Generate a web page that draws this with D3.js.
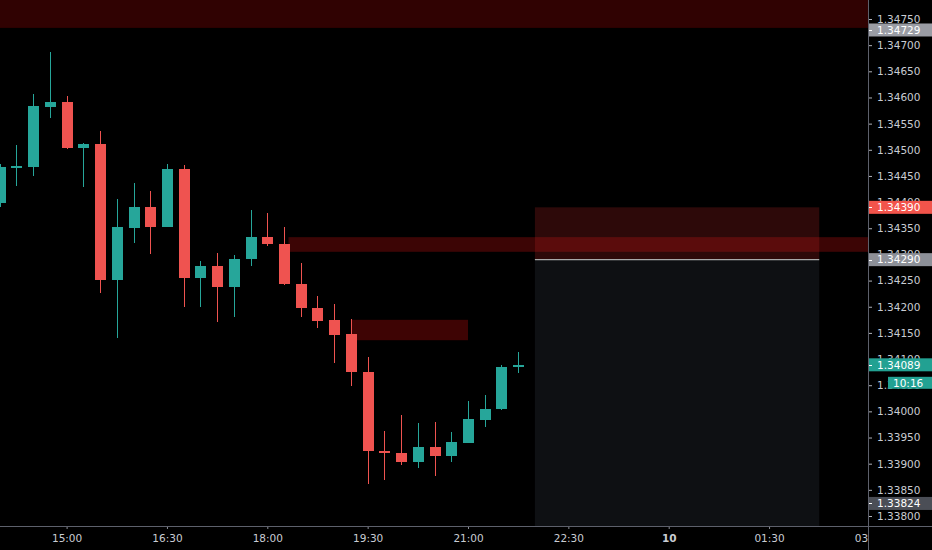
<!DOCTYPE html>
<html>
<head>
<meta charset="utf-8">
<script src="https://cdn.jsdelivr.net/npm/d3@7"></script>
<style>
  html, body { margin: 0; padding: 0; background: #000; }
  svg { display: block; }
  text { font-family: "DejaVu Sans", sans-serif; }
</style>
</head>
<body>
<svg id="chart" width="932" height="550"></svg>
<script>
// ---------- data ----------
const DAY = "2023-11-09";
const candleTimes = ["14:00","14:15","14:30","14:45","15:00","15:15","15:30","15:45",
  "16:00","16:15","16:30","16:45","17:00","17:15","17:30","17:45",
  "18:00","18:15","18:30","18:45","19:00","19:15","19:30","19:45",
  "20:00","20:15","20:30","20:45","21:00","21:15","21:30","21:45"];
const opens  = [1.34398,1.34466,1.34468,1.34582,1.34591,1.34503,1.34512,1.34251,
  1.34351,1.34390,1.34353,1.34463,1.34254,1.34278,1.34237,1.34291,
  1.34333,1.34320,1.34243,1.34198,1.34174,1.34147,1.34076,1.33925,
  1.33920,1.33904,1.33932,1.33915,1.33940,1.33983,1.34004,1.34085];
const highs  = [1.34472,1.34510,1.34606,1.34686,1.34603,1.34513,1.34535,1.34405,
  1.34436,1.34421,1.34472,1.34470,1.34287,1.34302,1.34299,1.34384,
  1.34380,1.34353,1.34283,1.34221,1.34205,1.34176,1.34103,1.33962,
  1.33993,1.33977,1.33979,1.33960,1.34020,1.34031,1.34089,1.34114];
const lows   = [1.34390,1.34430,1.34449,1.34560,1.34501,1.34429,1.34226,1.34141,
  1.34321,1.34300,1.34352,1.34200,1.34200,1.34170,1.34181,1.34277,
  1.34317,1.34242,1.34181,1.34159,1.34092,1.34048,1.33862,1.33869,
  1.33897,1.33892,1.33876,1.33904,1.33939,1.33971,1.34003,1.34073];
const closes = [1.34467,1.34469,1.34584,1.34591,1.34503,1.34512,1.34251,1.34352,
  1.34390,1.34353,1.34463,1.34254,1.34278,1.34237,1.34291,1.34333,
  1.34319,1.34243,1.34197,1.34173,1.34146,1.34075,1.33925,1.33920,
  1.33904,1.33932,1.33915,1.33941,1.33985,1.34005,1.34085,1.34089];

const priceTicks = [1.33800,1.33850,1.33900,1.33950,1.34000,1.34050,1.34100,1.34150,
  1.34200,1.34250,1.34300,1.34350,1.34400,1.34450,1.34500,1.34550,1.34600,
  1.34650,1.34700,1.34750];
const timeTicks = ["2023-11-09T15:00Z","2023-11-09T16:30Z","2023-11-09T18:00Z",
  "2023-11-09T19:30Z","2023-11-09T21:00Z","2023-11-09T22:30Z","2023-11-10T00:00Z",
  "2023-11-10T01:30Z","2023-11-10T03:00Z"];

// zones (time anchors + price levels)
const topZone    = { top: 1.34800, bottom: 1.34733 };
const resistZone = { start: "2023-11-09T18:19Z", top: 1.34333, bottom: 1.34305 };
const smallZone  = { start: "2023-11-09T19:15Z", end: "2023-11-09T21:00Z", top: 1.34175, bottom: 1.34136 };
const position   = { start: "2023-11-09T22:00Z", end: "2023-11-10T02:15Z", stop: 1.34390, entry: 1.34290, target: 1.33700 };

// axis price labels
const priceLabelValues = [1.34729, 1.34390, 1.34290, 1.34089, 1.33824];
const priceLabelColors = ["#9a9ca4", "#f2544b", "#8d9098", "#22a192", "#4b4e56"];
const countdownText = "10:16";

// ---------- layout ----------
const W = 932, H = 550, plotR = 868, plotB = 526;
const svg = d3.select("#chart");
svg.append("rect").attr("width", W).attr("height", H).attr("fill", "#000");

const x = d3.scaleTime()
  .domain([new Date("2023-11-09T14:00Z"), new Date("2023-11-10T03:00Z")])
  .range([-0.3, 869.4]);
const y = d3.scaleLinear().domain([1.338, 1.3475]).range([516, 19]);

const defs = svg.append("defs");
defs.append("clipPath").attr("id", "plotClip")
  .append("rect").attr("x", 0).attr("y", 0).attr("width", plotR).attr("height", plotB);

const plot = svg.append("g").attr("clip-path", "url(#plotClip)");

// position tool lower (target) zone
const px0 = x(new Date(position.start)), px1 = x(new Date(position.end));
plot.append("rect")
  .attr("x", px0).attr("width", px1 - px0)
  .attr("y", y(position.entry)).attr("height", y(position.target) - y(position.entry))
  .attr("fill", "#0e1013");

// top zone
plot.append("rect")
  .attr("x", 0).attr("width", plotR)
  .attr("y", y(topZone.top)).attr("height", y(topZone.bottom) - y(topZone.top))
  .attr("fill", "#300202");

// resistance zone extending to the right
const rx0 = x(new Date(resistZone.start));
plot.append("rect")
  .attr("x", rx0).attr("width", plotR - rx0)
  .attr("y", y(resistZone.top)).attr("height", y(resistZone.bottom) - y(resistZone.top))
  .attr("fill", "#3c0505");

// small zone
const sx0 = x(new Date(smallZone.start)), sx1 = x(new Date(smallZone.end));
plot.append("rect")
  .attr("x", sx0).attr("width", sx1 - sx0)
  .attr("y", y(smallZone.top)).attr("height", y(smallZone.bottom) - y(smallZone.top))
  .attr("fill", "#3e0404");

// position stop zone (translucent red)
plot.append("rect")
  .attr("x", px0).attr("width", px1 - px0)
  .attr("y", y(position.stop)).attr("height", y(position.entry) - y(position.stop))
  .attr("fill", "rgba(205,40,40,0.22)");
// entry line
plot.append("line")
  .attr("x1", px0).attr("x2", px1)
  .attr("y1", y(position.entry)).attr("y2", y(position.entry))
  .attr("stroke", "#a8a8a8").attr("stroke-width", 1.3);

// candles
const up = "#26a69a", down = "#ef5350";
const candles = candleTimes.map((t, i) => ({
  t: new Date(DAY + "T" + t + "Z"), o: opens[i], h: highs[i], l: lows[i], c: closes[i]
}));
const cg = plot.append("g").attr("shape-rendering", "crispEdges");
const bw = 11.5;
cg.selectAll("line.wick").data(candles).enter().append("line")
  .attr("class", "wick")
  .attr("x1", d => Math.round(x(d.t)) + 0.5).attr("x2", d => Math.round(x(d.t)) + 0.5)
  .attr("y1", d => y(d.h)).attr("y2", d => y(d.l))
  .attr("stroke", d => d.c >= d.o ? up : down).attr("stroke-width", 1);
cg.selectAll("rect.body").data(candles).enter().append("rect")
  .attr("class", "body")
  .attr("x", d => Math.round(x(d.t)) + 0.5 - bw / 2)
  .attr("width", bw)
  .attr("y", d => y(Math.max(d.o, d.c)))
  .attr("height", d => Math.max(1.5, Math.abs(y(d.o) - y(d.c))))
  .attr("fill", d => d.c >= d.o ? up : down);

// ---------- axes ----------
const axisColor = "#5d606b", textColor = "#c9ccd3";

// right price axis
const yAxis = d3.axisRight(y).tickValues(priceTicks).tickFormat(d3.format(".5f"))
  .tickSize(4).tickPadding(5);
const ya = svg.append("g").attr("transform", `translate(${plotR},0)`).call(yAxis);
ya.select(".domain").remove();
ya.selectAll(".tick line").attr("stroke", "#b0b3ba");
ya.selectAll(".tick text").attr("fill", textColor).attr("font-size", 10.5)
  .attr("font-family", "DejaVu Sans, sans-serif");

// bottom time axis (clipped to plot width)
defs.append("clipPath").attr("id", "xaxClip")
  .append("rect").attr("x", 0).attr("y", plotB).attr("width", plotR).attr("height", H - plotB);
const xAxis = d3.axisBottom(x).tickValues(timeTicks.map(s => new Date(s)))
  .tickFormat(d => (d.getUTCHours() === 0 && d.getUTCMinutes() === 0)
      ? String(d.getUTCDate()) : d3.utcFormat("%H:%M")(d))
  .tickSize(3).tickPadding(6);
const xa = svg.append("g").attr("clip-path", "url(#xaxClip)")
  .append("g").attr("transform", `translate(0,${plotB})`).call(xAxis);
xa.select(".domain").remove();
xa.selectAll(".tick line").attr("stroke", "#8a8d95");
xa.selectAll(".tick text").attr("fill", textColor).attr("font-size", 10.5)
  .attr("font-family", "DejaVu Sans, sans-serif")
  .attr("font-weight", d => (d.getUTCHours() === 0) ? "bold" : "normal");

// axis border lines
svg.append("line").attr("x1", 0).attr("x2", W).attr("y1", plotB + 0.5).attr("y2", plotB + 0.5)
  .attr("stroke", axisColor).attr("stroke-width", 1);
svg.append("line").attr("x1", plotR + 0.5).attr("x2", plotR + 0.5).attr("y1", 0).attr("y2", H)
  .attr("stroke", axisColor).attr("stroke-width", 1);

// price labels on axis
const pl = svg.append("g");
priceLabelValues.forEach((v, i) => {
  const yy = y(v);
  pl.append("rect").attr("x", plotR + 1).attr("y", yy - 6.5).attr("width", W - plotR - 1).attr("height", 13)
    .attr("fill", priceLabelColors[i]);
  pl.append("line").attr("x1", plotR + 1).attr("x2", plotR + 4).attr("y1", Math.round(yy) + 0.5).attr("y2", Math.round(yy) + 0.5)
    .attr("stroke", "#fff");
  pl.append("text").attr("x", plotR + 9).attr("y", yy).attr("dy", "0.36em")
    .attr("fill", "#fff").attr("font-size", 10.5).text(d3.format(".5f")(v));
});
// countdown box under current price
const cy = y(priceLabelValues[3]);
pl.append("rect").attr("x", 888).attr("y", cy + 12).attr("width", W - 888).attr("height", 12)
  .attr("fill", priceLabelColors[3]);
pl.append("text").attr("x", 893).attr("y", cy + 18).attr("dy", "0.36em")
  .attr("fill", "#fff").attr("font-size", 10.5).text(countdownText);
</script>
</body>
</html>
